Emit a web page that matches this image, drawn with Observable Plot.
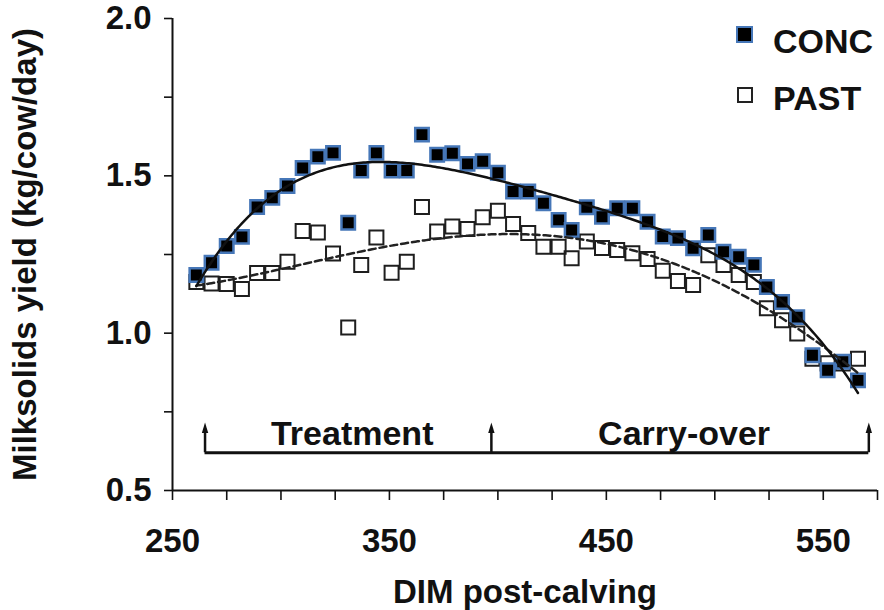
<!DOCTYPE html>
<html>
<head>
<meta charset="utf-8">
<script src="https://cdn.jsdelivr.net/npm/d3@7"></script>
<script src="https://cdn.jsdelivr.net/npm/@observablehq/plot@0.6"></script>
<style>
  html, body { margin: 0; padding: 0; background: #fff; }
  #wrap { position: relative; width: 884px; height: 610px; font-family: "Liberation Sans", Arial, sans-serif; color: #111; }
  .legtxt { position: absolute; left: 773px; font-weight: bold; font-size: 34px; line-height: 34px; }
  .sw { position: absolute; box-sizing: border-box; }
  .sw.conc { left: 736px; top: 26px; width: 17px; height: 17px; background: #000; border: 2px solid #4677b8; }
  .sw.past { left: 737px; top: 87px; width: 16px; height: 16px; background: #fff; border: 2px solid #222; }
</style>
</head>
<body>
<div id="wrap">
  <div id="chart"></div>
  <div class="sw conc"></div><div class="legtxt" style="top:24px">CONC</div>
  <div class="sw past"></div><div class="legtxt" style="top:81px">PAST</div>
</div>
<script>
// ---- data ----
const days = [261, 268, 275, 282, 289, 296, 303, 310, 317, 324, 331, 337, 344, 351, 358, 365, 372, 379, 386, 393,
              400, 407, 414, 421, 428, 434, 441, 448, 455, 462, 469, 476, 483, 490, 497, 504, 511, 518, 524, 531,
              538, 545, 552, 559, 566];
const concValues = [1.185, 1.224, 1.277, 1.306, 1.401, 1.430, 1.468, 1.525, 1.561, 1.573, 1.351, 1.517, 1.573, 1.517, 1.517,
                    1.631, 1.567, 1.572, 1.538, 1.546, 1.510, 1.450, 1.450, 1.413, 1.360, 1.328, 1.400, 1.370, 1.397, 1.397,
                    1.354, 1.307, 1.302, 1.270, 1.312, 1.259, 1.243, 1.217, 1.147, 1.099, 1.051, 0.930, 0.882, 0.909, 0.850];
const pastValues = [1.163, 1.158, 1.156, 1.140, 1.191, 1.191, 1.227, 1.325, 1.320, 1.253, 1.018, 1.217, 1.304, 1.192, 1.227,
                    1.401, 1.323, 1.339, 1.331, 1.368, 1.389, 1.347, 1.318, 1.275, 1.275, 1.238, 1.291, 1.271, 1.264, 1.254,
                    1.236, 1.198, 1.166, 1.153, 1.248, 1.217, 1.185, 1.163, 1.079, 1.041, 0.999, 0.919, 0.904, 0.904, 0.919];
const xTicks = [250, 275, 300, 325, 350, 375, 400, 425, 450, 475, 500, 525, 550, 575];
const xTickLabels = [250, 350, 450, 550];
const yTicks = [0.5, 0.75, 1.0, 1.25, 1.5, 1.75, 2.0];
const yTickLabels = [0.5, 1.0, 1.5, 2.0];
const phaseBounds = [265, 397, 571];
const phaseNames = ["Treatment", "Carry-over"];
const bracketY = 0.62;
const arrowHeadY = 0.696;
const phaseLabelY = 0.68;
const trendDegree = 4;

// ---- polynomial trend (least squares) ----
function polyfit(xs, ys, deg) {
  const c = 415, s = 155, n = deg + 1;
  const A = Array.from({length: n}, () => new Array(n + 1).fill(0));
  xs.forEach((x, k) => {
    const t = (x - c) / s;
    const p = d3.range(n).map(i => Math.pow(t, i));
    for (let i = 0; i < n; i++) {
      for (let j = 0; j < n; j++) A[i][j] += p[i] * p[j];
      A[i][n] += p[i] * ys[k];
    }
  });
  for (let i = 0; i < n; i++) {
    let m = i;
    for (let r = i + 1; r < n; r++) if (Math.abs(A[r][i]) > Math.abs(A[m][i])) m = r;
    [A[i], A[m]] = [A[m], A[i]];
    for (let r = 0; r < n; r++) {
      if (r === i) continue;
      const f = A[r][i] / A[i][i];
      for (let cc = i; cc <= n; cc++) A[r][cc] -= f * A[i][cc];
    }
  }
  const coef = A.map((row, i) => row[n] / row[i]);
  return x => { const t = (x - c) / s; return coef.reduce((acc, a, i) => acc + a * Math.pow(t, i), 0); };
}

const concPts = days.map((d, i) => ({d, v: concValues[i]}));
const pastPts = days.map((d, i) => ({d, v: pastValues[i]}));
const fConc = polyfit(days, concValues, trendDegree);
const fPast = polyfit(days, pastValues, trendDegree);
const grid = d3.range(days[0], days[days.length - 1] + 0.5, 1);
const concFit = grid.map(d => ({d, v: fConc(d)}));
const pastFit = grid.map(d => ({d, v: fPast(d)}));

const bracket = [{x1: phaseBounds[0], x2: phaseBounds[phaseBounds.length - 1], y: bracketY}];
const phaseLabels = phaseNames.map((name, i) => ({name, x: (phaseBounds[i] + phaseBounds[i + 1]) / 2}));

const arrowSymbol = {
  draw(ctx, size) {
    const s = Math.sqrt(size);
    ctx.moveTo(0, -s * 0.6);
    ctx.lineTo(s * 0.3, s * 0.4);
    ctx.lineTo(-s * 0.3, s * 0.4);
    ctx.closePath();
  }
};

const chart = Plot.plot({
  width: 884,
  height: 610,
  marginLeft: 172,
  marginRight: 7,
  marginTop: 18,
  marginBottom: 120,
  style: {fontFamily: "'Liberation Sans', Arial, sans-serif", fontSize: "33px", fontWeight: "bold", color: "#111", background: "#fff"},
  x: {domain: [250, 575]},
  y: {domain: [0.5, 2.0]},
  marks: [
    Plot.axisX({ticks: xTicks, tickSize: 10, tickPadding: 28, strokeWidth: 1.6,
      tickFormat: d => xTickLabels.includes(d) ? String(d) : "",
      label: "DIM post-calving", labelAnchor: "center", labelOffset: 112, labelArrow: "none"}),
    Plot.axisY({ticks: yTicks, tickSize: 8, tickPadding: 13, strokeWidth: 1.6,
      tickFormat: d => yTickLabels.includes(d) ? d3.format(".1f")(d) : "",
      label: "Milksolids yield (kg/cow/day)", labelAnchor: "center", labelOffset: 160, labelArrow: "none"}),
    Plot.ruleX([250], {stroke: "#111", strokeWidth: 2}),
    Plot.ruleY([0.5], {stroke: "#111", strokeWidth: 2}),
    // phase bracket
    Plot.ruleY(bracket, {y: "y", x1: "x1", x2: "x2", stroke: "#111", strokeWidth: 3}),
    Plot.ruleX(phaseBounds, {x: d => d, y1: bracketY, y2: arrowHeadY, stroke: "#111", strokeWidth: 2.5}),
    Plot.dot(phaseBounds, {x: d => d, y: arrowHeadY, symbol: arrowSymbol, r: 6, fill: "#111", stroke: "none"}),
    Plot.text(phaseLabels, {x: "x", y: phaseLabelY, text: "name", dx: 4, fontSize: 34, fontWeight: "bold", fill: "#111"}),
    // data points
    Plot.dot(pastPts, {x: "d", y: "v", symbol: "square", r: 7.9, fill: "none", stroke: "#1e1e1e", strokeWidth: 2}),
    Plot.dot(concPts, {x: "d", y: "v", symbol: "square", r: 7.6, fill: "#000", stroke: "#4677b8", strokeWidth: 2.5}),
    // trend curves
    Plot.line(pastFit, {x: "d", y: "v", stroke: "#222", strokeWidth: 2.5, strokeDasharray: "7,4"}),
    Plot.line(concFit, {x: "d", y: "v", stroke: "#111", strokeWidth: 2.5})
  ]
});
document.getElementById("chart").appendChild(chart);
</script>
</body>
</html>
